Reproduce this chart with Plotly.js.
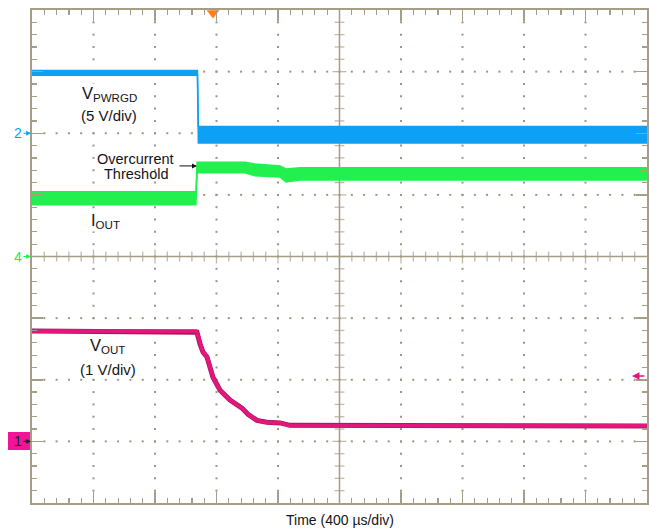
<!DOCTYPE html>
<html>
<head>
<meta charset="utf-8">
<script src="https://cdn.plot.ly/plotly-3.0.1.min.js"></script>
<style>html,body{margin:0;padding:0;background:#fff;}#chart{width:649px;height:529px;}</style>
</head>
<body>
<div id="chart"></div>
<script>
// ---- Data (time in µs from left edge of screen, 400 µs/div) ----
// VPWRGD (channel 2, 5 V/div): upper and lower edges of the trace band, volts
const vpwrgdTime = [0, 1076, 1082, 4000];
const vpwrgdHigh = [5.1, 5.1, 0.55, 0.55];
const vpwrgdLow  = [4.7, 4.7, -0.8, -0.8];

// IOUT (channel 4): upper and lower edges of the trace band, divisions
const ioutTime = [0, 1066, 1074, 1385, 1450, 1613, 1652, 1743, 4000];
const ioutHigh = [1.05, 1.05, 1.53, 1.53, 1.50, 1.47, 1.42, 1.44, 1.44];
const ioutLow  = [0.84, 0.84, 1.36, 1.36, 1.31, 1.29, 1.21, 1.24, 1.24];

// VOUT (channel 1, 1 V/div), volts
const voutTime = [0, 1067, 1073, 1093, 1112, 1138, 1177, 1223, 1288, 1366, 1405, 1463, 1528, 1613, 1678, 4000];
const voutVolts = [1.79, 1.79, 1.77, 1.58, 1.45, 1.37, 1.04, 0.83, 0.67, 0.54, 0.44, 0.34, 0.31, 0.30, 0.26, 0.25];

// channel settings: volts per division and ground marker position (divisions from centre)
const ch2Scale = 5, ch2Offset = 2;
const ch4Scale = 1, ch4Offset = 0;
const ch1Scale = 1, ch1Offset = -3;

const frame = '#a69d86';
const dotColor = '#9c957f';
const blue = '#0ea0f4';
const green = '#22f04e';
const pink = '#e3167b';
const FONT = 'Liberation Sans, Arial, sans-serif';

const toDiv = (arr, s, o) => arr.map(v => v / s + o);

const traces = [];

// grid dots
const gx = [], gy = [];
for (let k = 1; k < 10; k++) {
  if (k === 5) continue;
  for (let j = 1; j < 40; j++) { gx.push(k * 400); gy.push(-4 + j * 0.2); }
}
for (let k = -3; k <= 3; k++) {
  if (k === 0) continue;
  for (let j = 1; j < 50; j++) { gx.push(j * 80); gy.push(k); }
}
traces.push({x: gx, y: gy, mode: 'markers', type: 'scatter',
  marker: {symbol: 'square', size: 2, color: dotColor}, hoverinfo: 'skip'});

// centre crosshair ticks
const hx = [], hy = [], hs = [];
for (let j = 1; j < 50; j++) { hx.push(j * 80); hy.push(0); hs.push(j % 5 === 0 ? 10 : 7); }
traces.push({x: hx, y: hy, mode: 'markers', type: 'scatter',
  marker: {symbol: 'line-ns', size: hs, line: {color: frame, width: 1.3}}, hoverinfo: 'skip'});
const vx = [], vy = [], vs = [];
for (let j = 1; j < 40; j++) { vx.push(2000); vy.push(-4 + j * 0.2); vs.push(j % 5 === 0 ? 10 : 7); }
traces.push({x: vx, y: vy, mode: 'markers', type: 'scatter',
  marker: {symbol: 'line-ew', size: vs, line: {color: frame, width: 1.3}}, hoverinfo: 'skip'});

// VPWRGD band
traces.push({x: vpwrgdTime, y: toDiv(vpwrgdLow, ch2Scale, ch2Offset), mode: 'lines', type: 'scatter',
  line: {color: blue, width: 1.5}, hoverinfo: 'skip'});
traces.push({x: vpwrgdTime, y: toDiv(vpwrgdHigh, ch2Scale, ch2Offset), mode: 'lines', type: 'scatter',
  fill: 'tonexty', fillcolor: blue, line: {color: blue, width: 1.5}, hoverinfo: 'skip'});

// IOUT band
traces.push({x: ioutTime, y: toDiv(ioutLow, ch4Scale, ch4Offset), mode: 'lines', type: 'scatter',
  line: {color: green, width: 1.5}, hoverinfo: 'skip'});
traces.push({x: ioutTime, y: toDiv(ioutHigh, ch4Scale, ch4Offset), mode: 'lines', type: 'scatter',
  fill: 'tonexty', fillcolor: green, line: {color: green, width: 1.5}, hoverinfo: 'skip'});

// VOUT
traces.push({x: voutTime, y: toDiv(voutVolts, ch1Scale, ch1Offset), mode: 'lines', type: 'scatter',
  line: {color: '#a8165a', width: 5}, hoverinfo: 'skip'});
traces.push({x: voutTime, y: toDiv(voutVolts, ch1Scale, ch1Offset), mode: 'lines', type: 'scatter',
  line: {color: pink, width: 3.8}, hoverinfo: 'skip'});

// trigger marker
traces.push({x: [1177], y: [3.95], mode: 'markers', type: 'scatter', cliponaxis: false,
  marker: {symbol: 'triangle-down', size: 11, color: '#ff7f1a'}, hoverinfo: 'skip'});

const labelFont = {family: FONT, size: 15, color: '#141420'};
const bigFont = {family: FONT, size: 16.5, color: '#141420'};

const annotations = [
  {x: 501, y: 2.64, text: 'V<sub>PWRGD</sub>', showarrow: false, font: bigFont, bgcolor: '#fff', borderpad: 0},
  {x: 501, y: 2.29, text: '(5 V/div)', showarrow: false, font: labelFont, bgcolor: '#fff', borderpad: 0},
  {x: 475, y: 0.58, text: 'I<sub>OUT</sub>', showarrow: false, font: bigFont, bgcolor: '#fff', borderpad: 0},
  {x: 494, y: -1.46, text: 'V<sub>OUT</sub>', showarrow: false, font: bigFont, bgcolor: '#fff', borderpad: 0},
  {x: 494, y: -1.84, text: '(1 V/div)', showarrow: false, font: labelFont, bgcolor: '#fff', borderpad: 0},
  {x: 676, y: 1.58, text: 'Overcurrent', showarrow: false, font: {family: FONT, size: 14.5, color: '#141420'}},
  {x: 676, y: 1.34, text: 'Threshold', showarrow: false, font: {family: FONT, size: 14.5, color: '#141420'}},
  {x: 1073, y: 1.47, ax: -19, ay: 0, text: '', showarrow: true, arrowhead: 2, arrowsize: 1, arrowwidth: 1, arrowcolor: '#111'},
  {xref: 'paper', yref: 'paper', x: 0.5, y: -0.035, yanchor: 'middle', xanchor: 'center', text: 'Time (400 µs/div)', showarrow: false,
   font: {family: FONT, size: 14, color: '#141420'}},
  // channel markers
  {x: 0, y: 2, ax: -14, ay: 0, text: '2', showarrow: true, arrowhead: 2, arrowsize: 0.8, arrowwidth: 1.2,
   arrowcolor: blue, font: {family: FONT, size: 14, color: blue}, standoff: 1},
  {x: 0, y: 0, ax: -14, ay: 0, text: '4', showarrow: true, arrowhead: 2, arrowsize: 0.8, arrowwidth: 1.2,
   arrowcolor: green, font: {family: FONT, size: 14, color: green}, standoff: 1},
  {x: 0, y: -3, ax: -14, ay: 0, text: '1', showarrow: true, arrowhead: 2, arrowsize: 0.8, arrowwidth: 1.2,
   arrowcolor: '#222', font: {family: FONT, size: 14, color: '#222'}, standoff: 1},
  {x: 3902, y: -1.94, ax: 14, ay: 0, text: '', showarrow: true, arrowhead: 2, arrowsize: 1, arrowwidth: 1.5,
   arrowcolor: pink}
];

const shapes = [
  {type: 'rect', xref: 'paper', yref: 'paper', x0: -0.039, x1: -0.002, y0: 0.1075, y1: 0.144,
   fillcolor: '#ef1596', line: {width: 0}, layer: 'below'},
  {type: 'line', xref: 'x', yref: 'y', x0: 2000, x1: 2000, y0: -4, y1: 4, line: {color: frame, width: 1.5}, layer: 'below'},
  {type: 'line', xref: 'x', yref: 'y', x0: 0, x1: 4000, y0: 0, y1: 0, line: {color: frame, width: 1.5}, layer: 'below'}
];

const axisCommon = {
  showgrid: false, zeroline: false, showticklabels: false, fixedrange: true,
  ticks: 'inside', ticklen: 11, tickwidth: 1.5, tickcolor: frame,
  showline: true, linecolor: frame, linewidth: 2, mirror: 'allticks'
};

const layout = {
  width: 649, height: 529,
  margin: {l: 32, r: 2, t: 10, b: 26},
  paper_bgcolor: '#fff', plot_bgcolor: '#fff',
  showlegend: false,
  xaxis: Object.assign({}, axisCommon, {range: [0, 4000], tickmode: 'linear', tick0: 0, dtick: 400,
    minor: {ticks: 'inside', tickmode: 'linear', tick0: 0, dtick: 80, ticklen: 5, tickwidth: 1.2, tickcolor: frame, showgrid: false}}),
  yaxis: Object.assign({}, axisCommon, {range: [-4, 4], tickmode: 'linear', tick0: -4, dtick: 1,
    minor: {ticks: 'inside', tickmode: 'linear', tick0: -4, dtick: 0.2, ticklen: 5, tickwidth: 1.2, tickcolor: frame, showgrid: false}}),
  annotations: annotations,
  shapes: shapes,
  font: {family: FONT}
};

Plotly.newPlot('chart', traces, layout, {staticPlot: true, displayModeBar: false});
</script>
</body>
</html>
